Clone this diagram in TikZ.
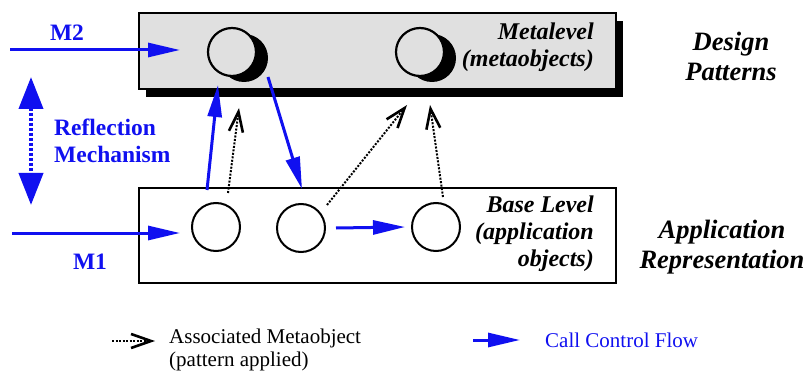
\documentclass[tikz,border=0pt]{standalone}
\usepackage{fontspec}
\setmainfont{LiberationSerif}[Extension=.ttf, UprightFont=*-Regular, BoldFont=*-Bold, ItalicFont=*-Italic, BoldItalicFont=*-BoldItalic]
\usetikzlibrary{arrows.meta,shadows,calc}
\definecolor{flowblue}{RGB}{16,16,240}
\definecolor{metagray}{RGB}{224,224,224}

\begin{document}
\begin{tikzpicture}[x=1pt,y=-1pt,
  levelbox/.style={draw=black, line width=2pt, rectangle, inner sep=0pt, minimum width=477pt},
  metaobj/.style={circle, draw=black, line width=2.2pt, fill=metagray, minimum size=48pt, inner sep=0pt,
    drop shadow={shadow xshift=12pt, shadow yshift=-6pt, fill=black, opacity=1}},
  baseobj/.style={circle, draw=black, line width=2pt, fill=white, minimum size=48pt, inner sep=0pt},
  flow/.style={draw=flowblue, line width=3pt, -{Triangle[length=32pt,width=14pt]}},
  assoc/.style={draw=black, line width=2pt, dash pattern=on 2pt off 1.5pt,
    -{Straight Barb[length=20pt,width=14pt,line width=2.6pt]}},
  reflect/.style={draw=flowblue, line width=4pt, dash pattern=on 3pt off 2pt,
    {Triangle[length=32pt,width=24pt]}-{Triangle[length=32pt,width=24pt]}},
  lvltext/.style={inner sep=0pt, font=\fontsize{24}{27}\selectfont\bfseries\itshape},
  sidetext/.style={inner sep=0pt, align=center, font=\fontsize{26.5}{30}\selectfont\bfseries\itshape},
  bluetext/.style={inner sep=0pt, text=flowblue, font=\fontsize{23.5}{27}\selectfont\bfseries},
  legtext/.style={inner sep=0pt, font=\fontsize{21}{23}\selectfont},
]
\useasboundingbox (0,0) rectangle (806,377);

% the two levels
\node[levelbox, fill=metagray, minimum height=76pt,
  drop shadow={shadow xshift=7pt, shadow yshift=-8pt, fill=black, opacity=1}] (meta) at (377.5,51) {};
\node[levelbox, fill=white, minimum height=95pt] (base) at (377.5,235.5) {};

\node[lvltext, anchor=east, align=right] (metalabel) at (594,47) {Metalevel\\(metaobjects)};
\node[lvltext, anchor=east, align=right] (baselabel) at (594,234) {Base Level\\(application\\objects)};

% metaobjects
\node[metaobj] (m1) at (232,52) {};
\node[metaobj] (m2) at (420,52) {};

% application objects
\node[baseobj] (b1) at (216,227) {};
\node[baseobj] (b2) at (301,228) {};
\node[baseobj] (b3) at (436,227) {};

% call control flow
\draw[flow] ($(b1)+(-9,-37)$) -- ($(m1)+(-14,33)$);
\draw[flow] ($(m1)+(36,25)$) -- ($(b2)+(1,-39)$);
\draw[flow] ($(b2)+(35,0)$) -- ($(b3)+(-31,0)$);

% associated metaobjects
\draw[assoc] ($(b1)+(12,-34)$) -- ($(m1)+(7,56)$);
\draw[assoc] ($(b2)+(26,-23)$) -- ($(m2)+(-13,53)$);
\draw[assoc] ($(b3)+(7,-30)$) -- ($(m2)+(10,53)$);

% entry points
\coordinate (m2in) at (10,50);
\coordinate (m1in) at (12,233);
\draw[flow] (m2in) -- ($(m1)+(-52,-2)$);
\draw[flow] (m1in) -- ($(b1)+(-36,6)$);
\node[bluetext] (m2lab) at (67,33) {M2};
\node[bluetext] (m1lab) at (90,262) {M1};

% reflection mechanism
\coordinate (rtop) at (31,77);
\coordinate (rbot) at (31,205);
\draw[reflect] (rtop) -- (rbot);
\node[bluetext, anchor=west, align=left] (refl) at (54,141) {Reflection\\Mechanism};

% side captions
\node[sidetext] (design) at (731,56) {Design\\Patterns};
\node[sidetext] (apprep) at (722,247) {Application\\Representation};

% legend
\coordinate (la1) at (112,341);
\coordinate (la2) at (155,341);
\draw[assoc] (la1) -- (la2);
\node[legtext, anchor=west, align=left] (legA) at (169,350) {Associated Metaobject\\(pattern applied)};
\coordinate (lb1) at (473,340);
\coordinate (lb2) at (520,340);
\draw[flow] (lb1) -- (lb2);
\node[legtext, anchor=west, text=flowblue] (legB) at (545,340) {Call Control Flow};
\end{tikzpicture}
\end{document}
